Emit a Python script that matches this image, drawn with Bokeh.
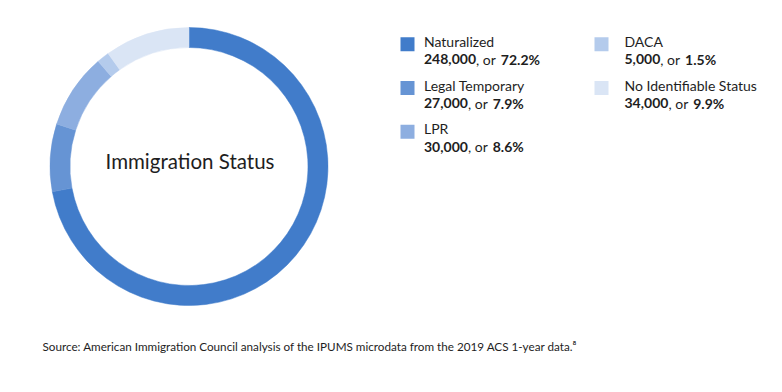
import numpy as np
from bokeh.plotting import figure
from bokeh.models import ColumnDataSource, Range1d
from bokeh.core.properties import value
from bokeh.embed import file_html
from bokeh.resources import INLINE

# ---- data ----
categories = ["Naturalized", "Legal Temporary", "LPR", "DACA", "No Identifiable Status"]
counts = [248000, 27000, 30000, 5000, 34000]
shares = [72.2, 7.9, 8.6, 1.5, 9.9]
colors = ["#417CCA", "#6694D4", "#8DAEE0", "#B4CBEC", "#DAE5F5"]
center_title = "Immigration Status"
source_note = ("Source: American Immigration Council analysis of the IPUMS microdata "
               "from the 2019 ACS 1-year data.\u2078")

W, H = 766, 376
FONT = "Lato"
TXT = "#1e1e1e"

p = figure(width=W, height=H, x_range=Range1d(0, W), y_range=Range1d(0, H),
           output_backend="svg", toolbar_location=None, min_border=0,
           x_axis_location=None, y_axis_location=None)
p.grid.visible = False
p.outline_line_color = None
p.background_fill_color = "white"
p.border_fill_color = "white"

# ---- donut ----
cx, cy = 188.5, 376 - 166.0
r_out, r_in = 139.0, 119.0
frac = np.array(counts, dtype=float) / sum(counts)
cum = np.concatenate([[0.0], np.cumsum(frac)])
start = np.pi / 2 - cum[:-1] * 2 * np.pi
end = np.pi / 2 - cum[1:] * 2 * np.pi
dsrc = ColumnDataSource(dict(start=start, end=end, color=colors, cat=categories))
p.annular_wedge(x=cx, y=cy, inner_radius=r_in, outer_radius=r_out,
                start_angle="start", end_angle="end", direction="clock",
                fill_color="color", line_color="color", line_width=0.5, source=dsrc)

p.text(x=[cx + 1], y=[376 - 160], text=[center_title], text_font=value(FONT),
       text_font_size="20.5px", text_color=TXT, text_align="center",
       text_baseline="middle")

# ---- legend ----
BOLD_W = {**{d: 0.58 for d in "0123456789"}, ",": 0.24, ".": 0.24, "%": 0.84}
REG_W = {",": 0.23, " ": 0.3, "o": 0.56, "r": 0.38}
FS = 14.0

def width(s, table):
    return sum(table.get(c, 0.55) for c in s) * FS

col_x = [407.0, 601.0]
text_dx = [16.5, 23.0]
row_y0, row_dy = 376 - 43.7, 43.8

sq_x, sq_y, lab_x, lab_y = [], [], [], []
num_t, num_x, num_y, or_t, or_x, pct_t, pct_x = [], [], [], [], [], [], []
for i, (cat, n, s) in enumerate(zip(categories, counts, shares)):
    col = 0 if i < 3 else 1
    row = i if i < 3 else i - 3
    x0 = col_x[col]
    yc = row_y0 - row * row_dy
    sq_x.append(x0)
    sq_y.append(yc)
    tx = x0 + text_dx[col]
    lab_x.append(tx)
    lab_y.append(yc + 3)
    nt = f"{n:,}"
    pt = f"{s}%"
    num_t.append(nt)
    num_x.append(tx)
    num_y.append(yc - 15)
    ot = ", or "
    or_t.append(ot)
    or_x.append(tx + width(nt, BOLD_W))
    pct_t.append(pt)
    pct_x.append(tx + width(nt, BOLD_W) + width(ot, REG_W))

p.rect(x=sq_x, y=sq_y, width=14, height=14, fill_color=colors, line_color=None)
p.text(x=lab_x, y=lab_y, text=categories, text_font=value(FONT), text_font_size="14px",
       text_color=TXT, text_baseline="middle")
p.text(x=num_x, y=num_y, text=num_t, text_font=value(FONT), text_font_size="14px",
       text_font_style="bold", text_color=TXT, text_baseline="middle")
p.text(x=or_x, y=num_y, text=or_t, text_font=value(FONT), text_font_size="14px",
       text_color=TXT, text_baseline="middle")
p.text(x=pct_x, y=num_y, text=pct_t, text_font=value(FONT), text_font_size="14px",
       text_font_style="bold", text_color=TXT, text_baseline="middle")

# ---- source ----
p.text(x=[42], y=[376 - 345], text=[source_note], text_font=value(FONT),
       text_font_size="11.7px", text_color=TXT, text_baseline="middle")

open("out.html", "w").write(file_html(p, INLINE))
